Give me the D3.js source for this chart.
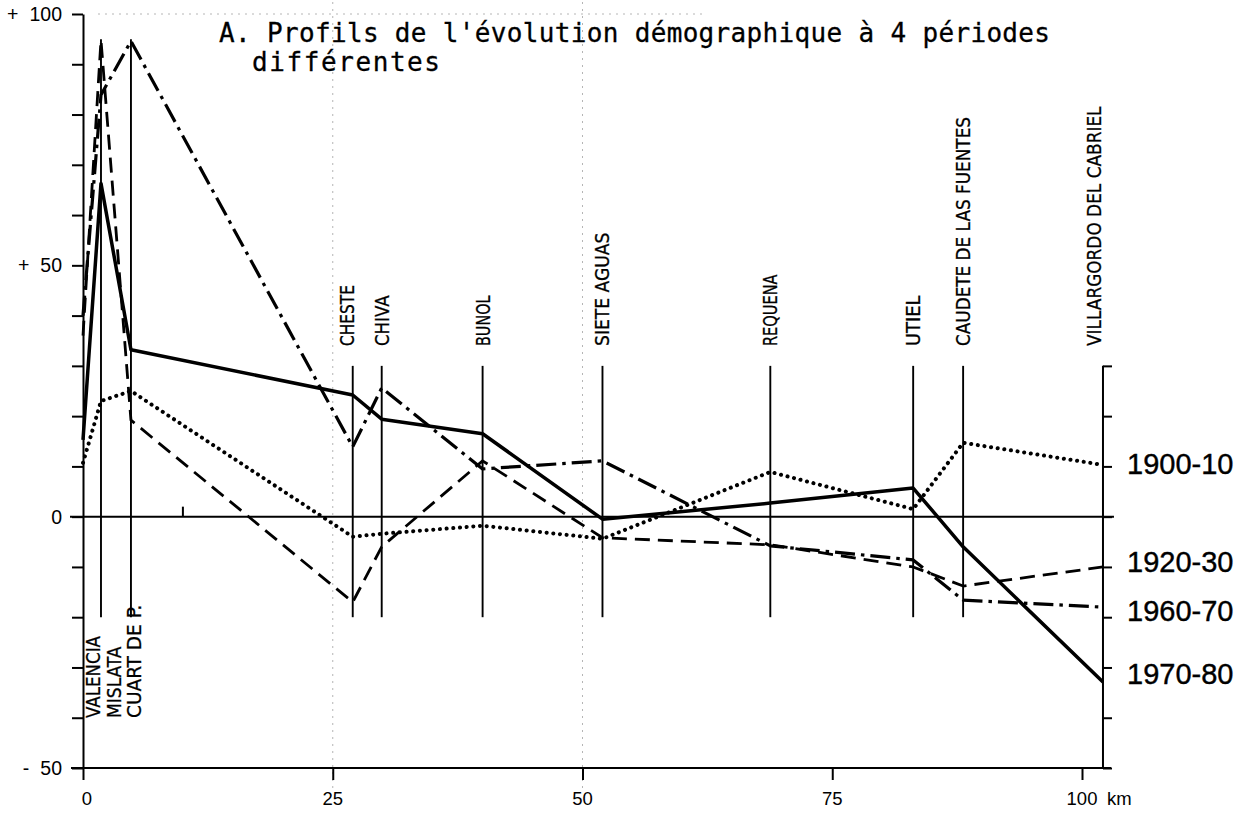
<!DOCTYPE html>
<html>
<head>
<meta charset="utf-8">
<script src="https://cdn.jsdelivr.net/npm/d3@7"></script>
<style>
  html, body { margin: 0; padding: 0; background: #fff; }
  svg { display: block; }
</style>
</head>
<body>
<svg id="chart" width="1256" height="814"></svg>
<script>
// ---------------- DATA ----------------
const towns = ["VALENCIA", "MISLATA", "CUART DE P.", "CHESTE", "CHIVA", "BUNOL",
  "SIETE AGUAS", "REQUENA", "UTIEL", "CAUDETE DE LAS FUENTES", "VILLARGORDO DEL CABRIEL"];
const townKm = [0, 1.8, 4.8, 27.0, 29.9, 40.0, 52.0, 68.8, 83.1, 88.1, 102.1];

const periods = ["1900-10", "1920-30", "1960-70", "1970-80"];
const v1900_10 = [10.7, 23.0, 25.0, -4.0, -3.4, -1.8, -4.4, 8.9, 1.5, 14.7, 10.3];
const v1920_30 = [36, 94.8, 19.2, -17.0, -6.0, 11.1, -4.2, -5.6, -10.0, -13.8, -10.0];
const v1960_70 = [40, 83.9, 94.6, 13.9, 25.6, 9.5, 11.1, -5.8, -8.6, -16.6, -18.0];
const v1970_80 = [15.3, 66.3, 33.2, 24.2, 19.4, 16.5, -0.5, 2.7, 5.7, -6.0, -32.9];

const kmTicks = [0, 25, 50, 75, 100];
const kmTickLabels = ["0", "25", "50", "75", "100"];
const yLabelValues = [100, 50, 0, -50];
const yLabelSigns = ["+", "+", "", "-"];
const yLabelNums = ["100", "50", "0", "50"];

const titleLine1 = "A. Profils de l'évolution démographique à 4 périodes";
const titleLine2 = "différentes";

// ---------------- LAYOUT ----------------
const svg = d3.select("#chart");
const x = d3.scaleLinear().domain([0, 100]).range([83, 1082]);
const y = d3.scaleLinear().domain([-50, 100]).range([768, 14]);
const xRight = x(townKm[townKm.length - 1]);
const legendBaselines = [474, 572, 621, 684];

const styles = [
  { w: 4.0, dash: "0.1 6.6", cap: "round" },   // 1900-10 dotted
  { w: 2.8, dash: "15 8", cap: "butt" },       // 1920-30 dashed
  { w: 3.2, dash: "20 6 3.5 6", cap: "butt" }, // 1960-70 dash-dot
  { w: 3.5, dash: null, cap: "butt" }          // 1970-80 solid
];
const seriesVals = [v1900_10, v1920_30, v1960_70, v1970_80];

// faint guide lines of the original paper
const guide = svg.append("g").attr("stroke", "#b5b5b5").attr("stroke-width", 1)
  .attr("stroke-dasharray", "2 5");
[25, 50].forEach(k => {
  guide.append("line").attr("x1", x(k)).attr("x2", x(k)).attr("y1", 2).attr("y2", 790);
});
guide.append("line").attr("x1", x(1.5)).attr("x2", x(62)).attr("y1", y(100)).attr("y2", y(100));

// ---------------- AXES ----------------
const axisG = svg.append("g").attr("stroke", "#000").attr("stroke-width", 2).attr("fill", "none");

// left axis (Valencia line)
const leftAxis = d3.axisLeft(y).tickValues(d3.range(-50, 101, 10)).tickSize(11).tickSizeOuter(0).tickFormat("");
const la = svg.append("g").attr("transform", `translate(${x(0)},0)`).call(leftAxis);
la.selectAll("path,line").attr("stroke", "#000").attr("stroke-width", 2);

// right axis (Villargordo line)
const rightAxis = d3.axisRight(y).tickValues(d3.range(-50, 31, 10)).tickSize(9).tickSizeOuter(0).tickFormat("");
const ra = svg.append("g").attr("transform", `translate(${xRight},0)`).call(rightAxis);
ra.select(".domain").remove();
ra.selectAll("line").attr("stroke", "#000").attr("stroke-width", 2);
axisG.append("line").attr("x1", xRight).attr("x2", xRight).attr("y1", y(30)).attr("y2", y(-50) + 1);

// bottom axis
const bottomAxis = d3.axisBottom(x).tickValues(kmTicks).tickSize(12).tickSizeOuter(0).tickFormat("");
const ba = svg.append("g").attr("transform", `translate(0,${y(-50)})`).call(bottomAxis);
ba.select(".domain").remove();
ba.selectAll("line").attr("stroke", "#000").attr("stroke-width", 2);
axisG.append("line").attr("x1", x(0) - 12).attr("x2", xRight + 8).attr("y1", y(-50)).attr("y2", y(-50));

// zero line
axisG.append("line").attr("x1", x(0) - 13).attr("x2", xRight + 11).attr("y1", y(0)).attr("y2", y(0));
axisG.append("line").attr("x1", x(10)).attr("x2", x(10)).attr("y1", y(0)).attr("y2", y(0) - 10);

// town vertical lines
towns.forEach((t, i) => {
  if (i === 0 || i === towns.length - 1) return;
  const top = i <= 2 ? 95 : 30;
  axisG.append("line").attr("x1", x(townKm[i])).attr("x2", x(townKm[i]))
    .attr("y1", y(top)).attr("y2", y(-20)).attr("stroke-width", 1.9);
});

// ---------------- SERIES ----------------
const line = d3.line().x((d, i) => x(townKm[i])).y(d => y(d));
seriesVals.forEach((vals, s) => {
  const st = styles[s];
  svg.append("path").datum(vals).attr("d", line)
    .attr("fill", "none").attr("stroke", "#000")
    .attr("stroke-width", st.w).attr("stroke-linejoin", "round")
    .attr("stroke-linecap", st.cap)
    .attr("stroke-dasharray", st.dash);
});

// ---------------- TEXT ----------------
const cond = "'DejaVu Sans Condensed', 'DejaVu Sans', sans-serif";
const sans = "'Liberation Sans', Arial, sans-serif";

// left axis labels
yLabelValues.forEach((v, i) => {
  const num = svg.append("text").attr("x", 62).attr("y", y(v) + 7)
    .attr("text-anchor", "end").attr("font-family", sans).attr("font-size", 19.5)
    .text(yLabelNums[i]);
  if (yLabelSigns[i]) {
    const w = num.node().getComputedTextLength();
    svg.append("text").attr("x", 62 - w - 11).attr("y", y(v) + 7)
      .attr("text-anchor", "end").attr("font-family", sans).attr("font-size", 19.5)
      .text(yLabelSigns[i]);
  }
});

// bottom labels
kmTicks.forEach((k, i) => {
  svg.append("text").attr("x", x(k) + (k === 0 ? 4 : 0)).attr("y", 805)
    .attr("text-anchor", "middle").attr("font-family", sans).attr("font-size", 18.5)
    .text(kmTickLabels[i]);
});
svg.append("text").attr("x", x(100) + 25).attr("y", 805)
  .attr("font-family", sans).attr("font-size", 18.5).text("km");

// town labels
towns.forEach((t, i) => {
  const len = t.length * 10.5 - 2;
  if (i <= 2) {
    const bx = x(0) + 17 + i * 20.5;
    svg.append("text").attr("transform", `translate(${bx},718) rotate(-90)`)
      .attr("font-family", cond).attr("font-size", 20)
      .attr("stroke", "#000").attr("stroke-width", 0.3)
      .attr("textLength", len).attr("lengthAdjust", "spacingAndGlyphs")
      .text(t);
  } else {
    const cx = x(townKm[i]) - (i === 3 ? 6 : 0) - (i === towns.length - 1 ? 9 : 0);
    svg.append("text").attr("transform", `translate(${cx + 7},346) rotate(-90)`)
      .attr("font-family", cond).attr("font-size", 20)
      .attr("stroke", "#000").attr("stroke-width", 0.3)
      .attr("textLength", len).attr("lengthAdjust", "spacingAndGlyphs")
      .text(t);
  }
});

// legend labels at right
periods.forEach((p, i) => {
  svg.append("text").attr("x", 1127).attr("y", legendBaselines[i])
    .attr("font-family", sans).attr("font-size", 29)
    .attr("stroke", "#000").attr("stroke-width", 0.4).text(p);
});

// title
const mono = "'DejaVu Sans Mono', 'Liberation Mono', monospace";
svg.append("text").attr("x", 219).attr("y", 42).attr("font-family", mono).attr("font-size", 26)
  .attr("stroke", "#000").attr("stroke-width", 0.3)
  .attr("textLength", 831).attr("lengthAdjust", "spacing").text(titleLine1);
svg.append("text").attr("x", 252).attr("y", 71).attr("font-family", mono).attr("font-size", 26)
  .attr("stroke", "#000").attr("stroke-width", 0.3)
  .attr("textLength", 188).attr("lengthAdjust", "spacing").text(titleLine2);
</script>
</body>
</html>
